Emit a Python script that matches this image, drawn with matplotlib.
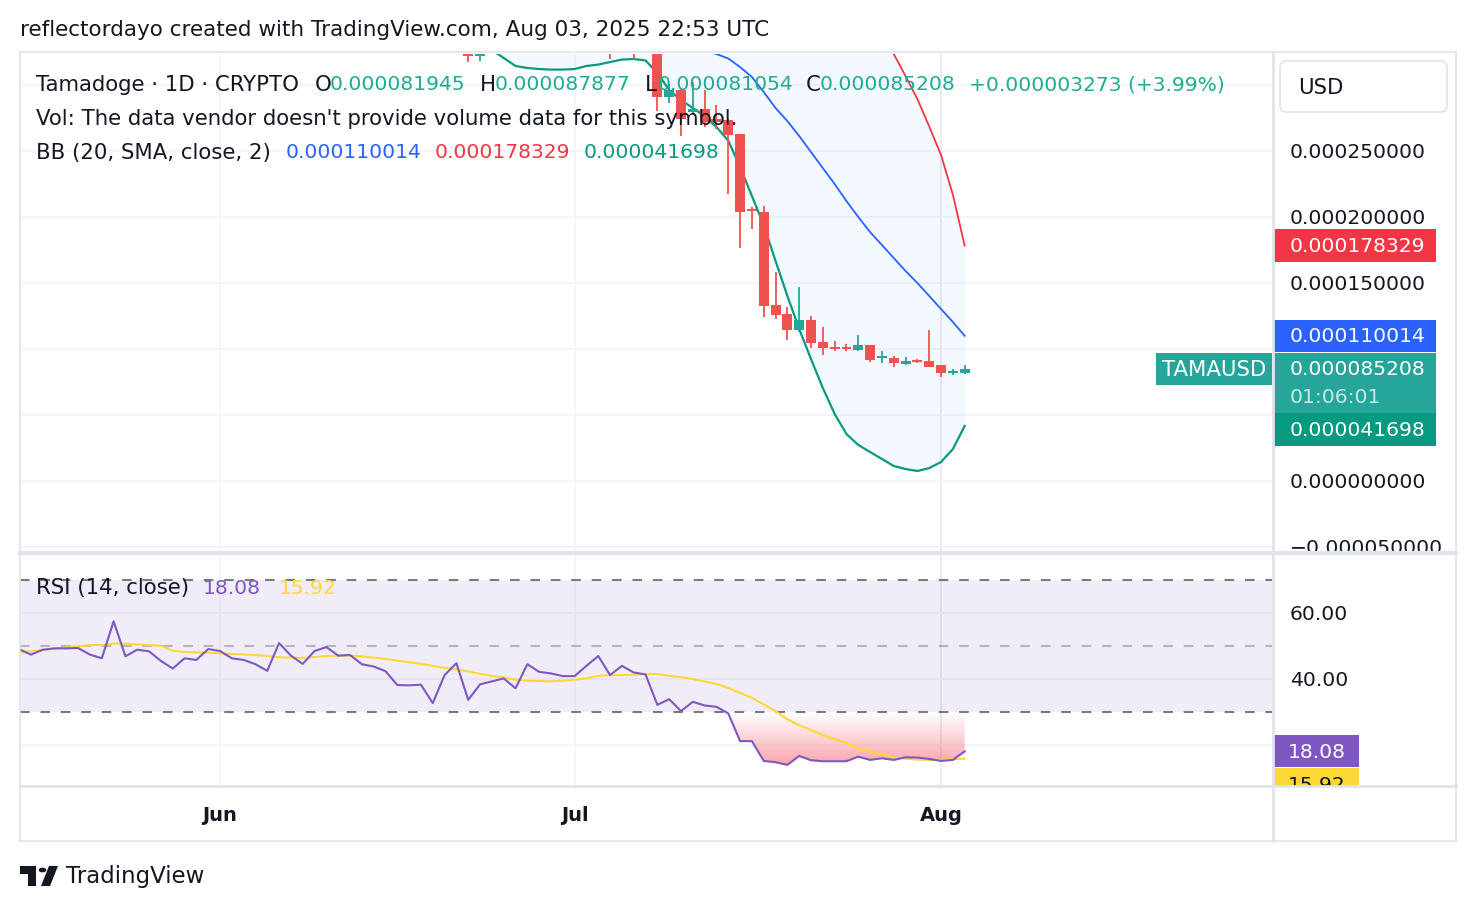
#!/usr/bin/env python3
# -*- coding: utf-8 -*-

import matplotlib
matplotlib.use("Agg")
import matplotlib.pyplot as plt
import matplotlib.dates as mdates
import matplotlib.transforms as mtransforms
from matplotlib.patches import Rectangle, FancyBboxPatch, Circle, Polygon
from matplotlib.lines import Line2D
from matplotlib.path import Path
import numpy as np
import pandas as pd

# daily candles visible in the price pane (TAMAUSD)
candle_dates = ["2025-06-22", "2025-06-23", "2025-07-04", "2025-07-06", "2025-07-08",
                "2025-07-09", "2025-07-10", "2025-07-11", "2025-07-12", "2025-07-13",
                "2025-07-14", "2025-07-15", "2025-07-16", "2025-07-17", "2025-07-18",
                "2025-07-19", "2025-07-20", "2025-07-21", "2025-07-22", "2025-07-23",
                "2025-07-24", "2025-07-25", "2025-07-26", "2025-07-27", "2025-07-28",
                "2025-07-29", "2025-07-30", "2025-07-31", "2025-08-01", "2025-08-02",
                "2025-08-03"]
opens = [0.000335, 0.000322, 0.000340, 0.000338, 0.000338,
         0.0002907, 0.0002962, 0.0002793, 0.0002818, 0.0002743,
         0.0002735, 0.0002629, 0.0002061, 0.0002036, 0.0001333,
         0.0001265, 0.0001146, 0.0001220, 0.0001051, 0.0001013,
         0.0001013, 0.0000995, 0.0001030, 0.0000930, 0.0000932,
         0.0000886, 0.0000917, 0.0000909, 0.0000879, 0.0000816,
         0.000081945]
highs = [0.000340, 0.000340, 0.000345, 0.000345, 0.000345,
         0.0003008, 0.0002977, 0.0003020, 0.0002962, 0.0002849,
         0.0002743, 0.0002629, 0.0002074, 0.0002086, 0.0001581,
         0.0001316, 0.0001467, 0.0001248, 0.0001164, 0.0001058,
         0.0001038, 0.0001106, 0.0001030, 0.0000983, 0.0000947,
         0.0000937, 0.0000924, 0.0001144, 0.0000880, 0.0000848,
         0.000087877]
lows = [0.0003174, 0.0003184, 0.000320, 0.000319, 0.0002805,
        0.0002861, 0.0002616, 0.0002780, 0.0002680, 0.0002667,
        0.0002174, 0.0001765, 0.0001909, 0.0001245, 0.0001227,
        0.0001070, 0.0001131, 0.0001010, 0.0000957, 0.0000983,
        0.0000983, 0.0000987, 0.0000904, 0.0000894, 0.0000866,
        0.0000881, 0.0000896, 0.0000864, 0.0000790, 0.0000805,
        0.000081054]
closes = [0.000322, 0.000335, 0.000328, 0.000330, 0.0002907,
          0.0002962, 0.0002743, 0.0002818, 0.0002718, 0.0002718,
          0.0002624, 0.0002040, 0.0002048, 0.0001328, 0.0001260,
          0.0001146, 0.0001220, 0.0001045, 0.0001005, 0.0001000,
          0.0001000, 0.0001033, 0.0000919, 0.0000942, 0.0000892,
          0.0000911, 0.0000904, 0.0000866, 0.0000816, 0.000081935,
          0.000085208]

# Bollinger Bands (20, SMA, close, 2), daily from 2025-06-23
bb_start = "2025-06-23"
bb_lower = [0.0003326, 0.0003265, 0.0003205, 0.0003144, 0.0003129, 0.0003121, 0.0003117,
            0.0003117, 0.0003121, 0.0003144, 0.0003155, 0.0003174, 0.0003193, 0.0003197,
            0.0003186, 0.0003091, 0.0002962, 0.0002886, 0.0002826, 0.0002765, 0.0002682,
            0.0002578, 0.0002379, 0.0002159, 0.0001939, 0.0001667, 0.0001402, 0.0001152,
            0.0000924, 0.0000705, 0.0000508, 0.0000356, 0.0000273, 0.0000220, 0.0000167,
            0.0000114, 0.0000091, 0.0000076, 0.0000098, 0.0000144, 0.0000242, 0.000041698]
bb_basis = [None] * 18 + [
            0.0003290, 0.0003261, 0.0003235, 0.0003201, 0.0003136, 0.0003061, 0.0002947,
            0.0002826, 0.0002727, 0.0002614, 0.0002492, 0.0002371, 0.0002250, 0.0002121,
            0.0002000, 0.0001886, 0.0001788, 0.0001689, 0.0001591, 0.0001500, 0.0001402,
            0.0001303, 0.0001205, 0.000110014]
bb_upper = [None] * 34 + [
            0.0003410, 0.0003235, 0.0003068, 0.0002894, 0.0002686, 0.0002470, 0.0002170,
            0.000178329]

# RSI (14, close) and its moving average, daily from 2025-05-15
rsi_start = "2025-05-15"
rsi = [49.1, 47.4, 48.9, 49.3, 49.3, 49.4, 47.4, 46.3, 57.5, 46.9,
       48.9, 48.4, 45.5, 43.2, 46.3, 45.8, 49.1,
       48.5, 46.3, 45.8, 44.5, 42.5, 50.9, 47.1, 44.6, 48.5, 49.7,
       47.1, 47.3, 44.5, 43.8, 42.4, 38.2, 38.1, 38.3, 32.7, 41.2,
       44.8, 33.7, 38.4, 39.3, 40.2, 37.2, 44.5, 42.2, 41.7, 40.9,
       40.9, 44.0, 47.0, 41.2, 44.0, 42.0, 41.4, 32.2, 33.9, 30.3,
       33.1, 32.0, 31.6, 29.6, 21.2, 21.2, 15.2, 14.8, 14.0, 16.7,
       15.4, 15.1, 15.1, 15.1, 16.5, 15.5, 16.0, 15.5, 16.3, 16.2,
       15.8, 15.2, 15.5, 18.08]
rsi_ma = [48.1, 48.4, 48.8, 49.2, 49.6, 50.0, 50.3, 50.3, 50.8, 50.7,
          50.5, 50.3, 50.1, 48.6, 48.2, 48.1, 48.0,
          47.8, 47.6, 47.5, 47.3, 47.0, 46.6, 46.5, 46.4, 46.7, 47.0,
          47.1, 47.1, 46.9, 46.5, 46.1, 45.6, 45.1, 44.6, 44.0, 43.4,
          42.9, 42.3, 41.6, 41.0, 40.5, 39.8, 39.5, 39.4, 39.3, 39.5,
          39.8, 40.2, 41.0, 41.2, 41.2, 41.3, 41.6, 41.5, 41.0, 40.6,
          40.0, 39.3, 38.5, 37.3, 35.8, 34.3, 32.3, 30.3, 27.8, 26.0,
          24.6, 23.0, 21.8, 20.6, 19.0, 18.0, 17.1, 16.3, 15.9, 15.6,
          15.5, 15.5, 15.7, 15.92]

price_ticks = [-0.00005, 0.0, 0.00005, 0.0001, 0.00015, 0.0002, 0.00025, 0.0003]
rsi_ticks = [20, 40, 60, 80]

UP = "#26A69A"
DOWN = "#EF5350"
TXT = "#131722"
GRID = "#F0F3FA"
BORDER = "#E0E3EB"
W, H = 1476, 912
FS = 14.6    # numbers
FT = 15.3    # words


def px_axes(fig, x0, y0, x1, y1):
    # pixel box, origin top-left
    return fig.add_axes([x0 / W, 1 - y1 / H, (x1 - x0) / W, (y1 - y0) / H])


def fig_text(fig, x, y, s, **kw):
    kw.setdefault("fontsize", FT)
    kw.setdefault("color", TXT)
    kw.setdefault("va", "center")
    return fig.text(x / W, 1 - y / H, s, **kw)


def plot():
    plt.rcParams["font.family"] = ["DejaVu Sans"]
    fig = plt.figure(figsize=(W / 100, H / 100), dpi=100)
    fig.patch.set_facecolor("white")

    ax_p = px_axes(fig, 20, 55, 1272, 552)
    ax_ps = px_axes(fig, 1272, 55, 1456, 552)
    ax_r = px_axes(fig, 20, 555, 1272, 787)
    ax_rs = px_axes(fig, 1272, 555, 1456, 787)

    x0 = pd.Timestamp("2025-06-01") - pd.Timedelta(days=16.92)
    x1 = pd.Timestamp("2025-06-01") + pd.Timedelta(days=89.0)
    p_lim = (-0.0000530, 0.0003235)
    r_lim = (7.6, 77.9)

    for ax in (ax_p, ax_r):
        ax.set_xlim(x0, x1)
        for s in ax.spines.values():
            s.set_visible(False)
        ax.tick_params(left=False, labelleft=False, bottom=False, labelbottom=False)
        ax.set_facecolor("white")
    ax_p.set_ylim(*p_lim)
    ax_r.set_ylim(*r_lim)

    months = pd.to_datetime(["2025-06-01", "2025-07-01", "2025-08-01"])
    for ax in (ax_p, ax_r):
        for m in months:
            ax.axvline(m, color="#E6E8EE" if m.month == 8 else GRID, lw=1.2, zorder=0)
    for v in price_ticks:
        ax_p.axhline(v, color=GRID, lw=1.2, zorder=0)
    for v in rsi_ticks:
        ax_r.axhline(v, color=GRID, lw=1.2, zorder=0)

    # Bollinger bands
    bx = pd.date_range(bb_start, periods=len(bb_lower), freq="D")
    lower = np.array(bb_lower, dtype=float)
    basis = np.array([np.nan if v is None else v for v in bb_basis])
    upper = np.array([np.nan if v is None else v for v in bb_upper])
    top = np.where(np.isnan(upper), 0.0005, upper)
    ax_p.fill_between(bx, lower, top, color="#2196F3", alpha=0.05, lw=0, zorder=1)
    ax_p.plot(bx, upper, color="#F23645", lw=1.3, zorder=2)
    ax_p.plot(bx, basis, color="#2962FF", lw=1.3, zorder=2)
    ax_p.plot(bx, lower, color="#089981", lw=1.6, zorder=2)

    # candles
    cd = pd.to_datetime(candle_dates)
    o, hi, lo, c = (np.array(a) for a in (opens, highs, lows, closes))
    cols = np.where(c >= o, UP, DOWN)
    ax_p.vlines(cd, lo, hi, colors=cols, lw=1.3, zorder=3)
    body = np.maximum(np.abs(c - o), 1.5e-6)
    ax_p.bar(cd, body, bottom=np.minimum(o, c), width=0.84, color=cols, lw=0, zorder=4)

    # RSI pane
    rx = pd.date_range(rsi_start, periods=len(rsi), freq="D")
    rv = np.array(rsi)
    ax_r.axhspan(30, 70, color="#7E57C2", alpha=0.1, lw=0, zorder=0.5)
    ax_r.axhline(70, color="#787B86", lw=1.5, dashes=(4.6, 5.2), zorder=1)
    ax_r.axhline(30, color="#787B86", lw=1.5, dashes=(4.6, 5.2), zorder=1)
    ax_r.axhline(50, color="#787B86", alpha=0.5, lw=1.5, dashes=(4.6, 5.2), zorder=1)

    poly = ax_r.fill_between(rx, rv, 30, where=rv < 30, interpolate=True,
                             facecolor="none", edgecolor="none")
    grad = np.zeros((256, 1, 4))
    grad[..., 0], grad[..., 1], grad[..., 2] = 242 / 255, 54 / 255, 69 / 255
    grad[:, 0, 3] = np.linspace(0, 0.85, 256)
    xn = mdates.date2num(rx)
    im = ax_r.imshow(grad, extent=[xn[0], xn[-1], 0, 30], aspect="auto",
                     origin="upper", zorder=1.5)
    clip = Path.make_compound_path(*poly.get_paths())
    im.set_clip_path(clip, transform=ax_r.transData)
    ax_r.set_xlim(x0, x1)
    ax_r.set_ylim(*r_lim)

    ax_r.plot(rx, rsi_ma, color="#FDD835", lw=1.5, zorder=2)
    ax_r.plot(rx, rv, color="#7E57C2", lw=1.5, zorder=3)

    # time axis labels
    ax_r.xaxis.set_major_locator(mdates.MonthLocator())
    ax_r.xaxis.set_major_formatter(mdates.DateFormatter("%b"))
    ax_r.tick_params(axis="x", bottom=False, labelbottom=True, length=0, pad=14,
                     labelsize=14, labelcolor=TXT)
    for t in ax_r.get_xticklabels():
        t.set_fontweight("bold")

    # right price scales
    for ax, lim in ((ax_ps, p_lim), (ax_rs, r_lim)):
        ax.set_xlim(0, 184)
        ax.set_ylim(*lim)
        ax.axis("off")

    pp = (p_lim[1] - p_lim[0]) / ax_ps.bbox.height
    ru = (r_lim[1] - r_lim[0]) / ax_rs.bbox.height
    last = closes[-1]
    g_mid = last - 61 * pp

    # value tags on the scales: (centre, height px, text, colour)
    p_tags = [(bb_upper[-1], 33, f"{bb_upper[-1]:.9f}", "#F23645"),
              (bb_basis[-1], 32, f"{bb_basis[-1]:.9f}", "#2962FF"),
              (g_mid, 33, f"{bb_lower[-1]:.9f}", "#089981")]
    r_tags = [(rsi[-1], 32, f"{rsi[-1]:.2f}", "#7E57C2", "white"),
              (rsi[-1] - 33 * ru, 32, f"{rsi_ma[-1]:.2f}", "#FDD835", TXT)]

    def covered(v, spans, unit):
        return any(abs(v - cy) < (hh / 2 + 8) * unit for cy, hh in spans)

    p_spans = [(t[0], t[1]) for t in p_tags] + [(last - 14 * pp, 60)]
    for v in price_ticks:
        if covered(v, p_spans, pp) or v > 0.00028:
            continue
        s = f"{v:.9f}".replace("-", "\u2212")
        ax_ps.text(18, v, s, fontsize=FS, color=TXT, va="center", ha="left", clip_on=True, zorder=2)
    r_spans = [(t[0], t[1]) for t in r_tags]
    for v in rsi_ticks:
        if covered(v, r_spans, ru) or v > r_lim[1]:
            continue
        ax_rs.text(18, v, f"{v:.2f}", fontsize=FS, color=TXT, va="center", ha="left",
                   clip_on=True, zorder=2)

    for cy, hh, s, fc in p_tags:
        ax_ps.add_patch(Rectangle((2, cy - hh / 2 * pp), 162, hh * pp, facecolor=fc, lw=0, zorder=5))
        ax_ps.text(18, cy, s, fontsize=FS, color="white", va="center", zorder=6, clip_on=True)
    ax_ps.add_patch(Rectangle((2, last - 44 * pp), 162, 60 * pp, facecolor="#26A69A", lw=0, zorder=5))
    ax_ps.text(18, last, f"{last:.9f}", fontsize=FS, color="white", va="center", zorder=6)
    ax_ps.text(18, last - 28 * pp, "01:06:01", fontsize=FS, color="white", alpha=0.75,
               va="center", zorder=6)
    for cy, hh, s, fc, tc in r_tags:
        ax_rs.add_patch(Rectangle((2, cy - hh / 2 * ru), 85, hh * ru, facecolor=fc, lw=0, zorder=5))
        ax_rs.text(16, cy, s, fontsize=FS, color=tc, va="center", zorder=6, clip_on=True)

    # symbol tag on the price pane
    blend = mtransforms.blended_transform_factory(ax_p.transAxes, ax_p.transData)
    ax_p.add_patch(Rectangle((0.9073, last - 16 * pp), 0.0927, 32 * pp, transform=blend,
                             facecolor="#26A69A", lw=0, zorder=6, clip_on=False))
    ax_p.text(0.9537, last, "TAMAUSD", transform=blend, fontsize=FT, color="white",
              ha="center", va="center", zorder=7)

    # USD box
    fig.patches.append(FancyBboxPatch((1280 / W, 1 - 113 / H), 167 / W, 51 / H,
                                      boxstyle="round,pad=0,rounding_size=0.0045",
                                      mutation_aspect=W / H, transform=fig.transFigure,
                                      facecolor="white", edgecolor=BORDER, lw=1.2, zorder=3))
    fig_text(fig, 1298, 88, "USD", zorder=4)

    # frame lines
    def hline(y, xa, xb, lw=1.5):
        fig.add_artist(Line2D([xa / W, xb / W], [1 - y / H, 1 - y / H], color=BORDER, lw=lw))

    def vline(x, ya, yb, lw=1.5):
        fig.add_artist(Line2D([x / W, x / W], [1 - ya / H, 1 - yb / H], color=BORDER, lw=lw))

    hline(53, 20, 1456, 1.2)
    hline(842, 20, 1456, 1.2)
    hline(553.5, 20, 1456, 3)
    hline(787, 20, 1456, 2)
    vline(20, 53, 842, 1.2)
    vline(1456, 53, 842, 1.2)
    vline(1272.5, 53, 842, 2)

    # legends
    fig_text(fig, 20, 30, "reflectordayo created with TradingView.com, Aug 03, 2025 22:53 UTC", fontsize=15.5)
    teal = "#22AB94"
    fig_text(fig, 36, 85, "Tamadoge \u00b7 1D \u00b7 CRYPTO")
    for lab, val, xl, xv in (("O", opens[-1], 315, 330), ("H", highs[-1], 480, 495),
                             ("L", lows[-1], 645, 658), ("C", closes[-1], 806, 820)):
        fig_text(fig, xl, 85, lab)
        fig_text(fig, xv, 85, f"{val:.9f}", color=teal, fontsize=FS)
    chg = closes[-1] - closes[-2]
    fig_text(fig, 969, 85, f"+{chg:.9f} (+{chg / closes[-2] * 100:.2f}%)", color=teal, fontsize=FS)
    fig_text(fig, 36, 119, "Vol: The data vendor doesn't provide volume data for this symbol.")
    fig_text(fig, 36, 153, "BB (20, SMA, close, 2)")
    fig_text(fig, 286, 153, f"{bb_basis[-1]:.9f}", color="#2962FF", fontsize=FS)
    fig_text(fig, 435, 153, f"{bb_upper[-1]:.9f}", color="#F23645", fontsize=FS)
    fig_text(fig, 584, 153, f"{bb_lower[-1]:.9f}", color="#089981", fontsize=FS)
    fig_text(fig, 36, 588, "RSI (14, close)")
    fig_text(fig, 203, 588, f"{rsi[-1]:.2f}", color="#7E57C2", fontsize=FS)
    fig_text(fig, 279, 588, f"{rsi_ma[-1]:.2f}", color="#FDD835", fontsize=FS)

    # footer logo
    def pxy(pts):
        return [(x / W, 1 - y / H) for x, y in pts]

    fig.patches.append(Polygon(pxy([(20, 867), (36, 867), (36, 887), (28, 887), (28, 875), (20, 875)]),
                               closed=True, transform=fig.transFigure, facecolor=TXT, lw=0))
    fig.patches.append(Polygon(pxy([(49, 867), (58, 867), (50, 887), (41, 887)]),
                               closed=True, transform=fig.transFigure, facecolor=TXT, lw=0))
    fig.patches.append(Circle((42.5 / W, 1 - 871 / H), 3.8 / W, transform=fig.transFigure,
                              facecolor=TXT, lw=0))
    fig_text(fig, 66, 877, "TradingView", fontsize=16.5)

    fig.savefig("out.png", dpi=100, facecolor="white")


if __name__ == "__main__":
    plot()
